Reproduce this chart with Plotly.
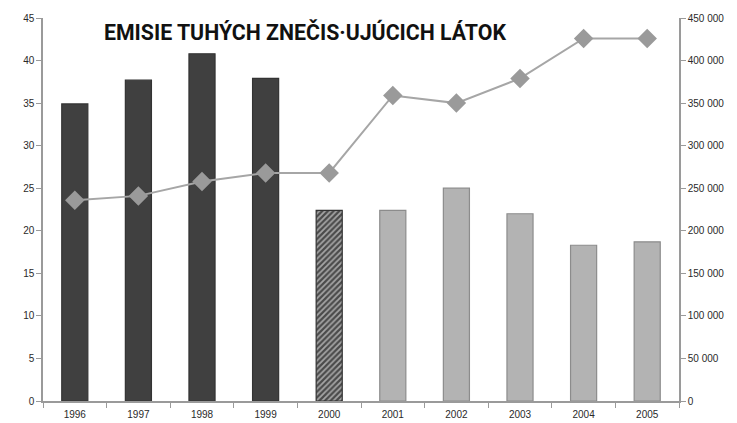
import plotly.graph_objects as go

years = ["1996", "1997", "1998", "1999", "2000", "2001", "2002", "2003", "2004", "2005"]
emissions = [34.9, 37.7, 40.8, 37.9, 22.4, 22.4, 25.0, 22.0, 18.3, 18.7]
line_values = [236000, 241000, 258000, 268000, 268000, 359000, 350000, 379000, 426000, 426000]
left_ticks = [0, 5, 10, 15, 20, 25, 30, 35, 40, 45]
right_ticks = [0, 50000, 100000, 150000, 200000, 250000, 300000, 350000, 400000, 450000]
right_labels = ["0", "50 000", "100 000", "150 000", "200 000", "250 000", "300 000", "350 000", "400 000", "450 000"]
title_text = "EMISIE TUHÝCH ZNEČIS·UJÚCICH LÁTOK"

dark, light = "#404040", "#b3b3b3"
bar_colors = [dark] * 4 + ["#4a4a4a"] + [light] * 5
line_colors = ["#333333"] * 5 + ["#8c8c8c"] * 5
shapes = [""] * 4 + ["/"] + [""] * 5

fig = go.Figure()
fig.add_trace(go.Bar(
    x=years, y=emissions, width=0.41,
    marker=dict(color=bar_colors, line=dict(color=line_colors, width=1.2),
                pattern=dict(shape=shapes, fgcolor="#303030", bgcolor="#5a5a5a", size=4, solidity=0.45)),
    showlegend=False,
))
fig.add_trace(go.Scatter(
    x=years, y=line_values, yaxis="y2", mode="lines+markers",
    line=dict(color="#a6a6a6", width=2),
    marker=dict(symbol="diamond", size=15, color="#9a9a9a"),
    showlegend=False,
))

tickfont = dict(family="Liberation Sans, Arial, sans-serif", size=10, color="#2a2a2a")
W, H = 729, 415
L, R, T, B = 35, 58, 10, 22
fig.update_layout(
    width=W, height=H,
    margin=dict(l=L, r=R, t=T, b=B, autoexpand=False),
    paper_bgcolor="white", plot_bgcolor="white",
    xaxis=dict(type="category", range=[-0.5, 9.5], showgrid=False, showline=True,
               linecolor="#9a9a9a", linewidth=1.5, ticks="outside", tickson="boundaries",
               ticklen=5, tickcolor="#9a9a9a", tickfont=tickfont, ticklabelstandoff=3,
               automargin=False),
    yaxis=dict(range=[0, 45], tickvals=left_ticks, showgrid=False, showline=True,
               linecolor="#9a9a9a", linewidth=1.5, ticks="outside", ticklen=5,
               tickcolor="#9a9a9a", tickfont=tickfont, zeroline=False, automargin=False),
    yaxis2=dict(range=[0, 450000], tickvals=right_ticks, ticktext=right_labels,
                overlaying="y", side="right", showgrid=False, showline=True,
                linecolor="#9a9a9a", linewidth=1.5, ticks="outside", ticklen=5,
                tickcolor="#9a9a9a", tickfont=tickfont, zeroline=False, automargin=False),
)
pw = W - L - R
ph = H - T - B
fig.add_annotation(
    text="<b>" + title_text + "</b>", xref="paper", yref="paper",
    x=(102 - 8 - L) / pw, y=1 - (32 - 8 - T) / ph, xanchor="left", yanchor="middle",
    showarrow=False,
    font=dict(family="Roboto, Liberation Sans, sans-serif", size=21.3, color="#111111"),
)
fig.write_html("out.html")
